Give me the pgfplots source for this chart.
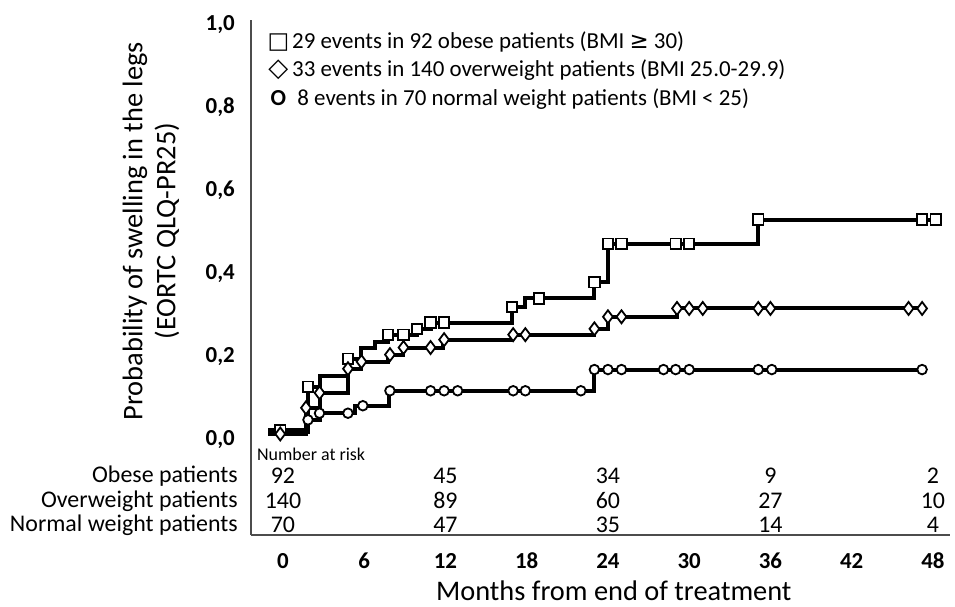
\documentclass[border=0pt]{standalone}
\usepackage{fontspec}
\setmainfont{Carlito}
\newfontfamily\sym{DejaVu Sans}
\usepackage{pgfplots}
\pgfplotsset{compat=1.18}
\newcommand\rt{\fontsize{24}{28}\selectfont}
\tikzset{rt/.style={font=\rt, inner sep=0pt}}
\begin{document}
\begin{tikzpicture}
\path[use as bounding box] (-251bp,-72bp) rectangle (704bp,535bp);
\begin{axis}[
  at={(0,0)}, anchor=south west,
  scale only axis, width=699bp, height=515bp,
  xmin=-2.36, xmax=49.26, ymin=-0.229, ymax=1.01,
  axis x line*=bottom, axis y line*=left,
  axis line style={line width=1.8bp, draw=black!70, -},
  xtick={0,6,12,18,24,30,36,42,48},
  ytick={0,0.2,0.4,0.6,0.8,1},
  major tick length=0pt,
  clip=false,
  /pgf/number format/assume math mode=true,
  yticklabel style={font=\bfseries\fontsize{23}{26}\selectfont, anchor=east, inner sep=0pt, xshift=-16bp,
    /pgf/number format/.cd, use comma, fixed, fixed zerofill, precision=1},
  xticklabel style={font=\bfseries\fontsize{23}{26}\selectfont, anchor=center, inner sep=0pt, yshift=-26bp},
  ylabel={Probability of swelling in the legs\\(EORTC QLQ-PR25)},
  ylabel style={at={(axis description cs:-0.143,0.59)}, anchor=center, align=center,
    font=\fontsize{28.5}{33}\selectfont},
  xlabel={Months from end of treatment},
  xlabel style={at={(axis description cs:0.519,0)}, anchor=base, yshift=-65bp, inner sep=0pt,
    font=\fontsize{28.5}{33}\selectfont},
  every axis plot/.append style={line width=4bp, black},
]
% Obese
\addplot[const plot, no marks] coordinates {
(-1.1,0.024) (1.85,0.128) (2.7,0.153) (4.8,0.195) (5.8,0.222) (6.8,0.236) (7.75,0.253)
(9.9,0.267) (10.9,0.282) (16.9,0.32) (17.9,0.34) (23.0,0.379) (24.0,0.472) (35.1,0.53) (48.2,0.53)};
% Overweight
\addplot[const plot, no marks] coordinates {
(-1.1,0.014) (1.7,0.077) (2.7,0.113) (4.8,0.171) (5.8,0.188) (7.75,0.205) (8.9,0.222)
(11.8,0.241) (16.9,0.253) (23.0,0.267) (24.0,0.296) (29.1,0.316) (47.2,0.316)};
% Normal
\addplot[const plot, no marks] coordinates {
(-1.1,0.02) (1.85,0.048) (2.7,0.064) (5.3,0.082) (7.8,0.118) (23.0,0.169) (47.2,0.169)};
% censor marks
\addplot[only marks, mark=square*, mark size=5.2bp, mark options={fill=white, draw=black, line width=1.8bp}] coordinates {
(-0.2,0.024) (1.85,0.128) (4.8,0.195) (7.75,0.253) (8.9,0.253) (9.9,0.267) (10.9,0.282) (11.9,0.282)
(16.9,0.32) (18.9,0.34) (23.0,0.379) (24.0,0.472) (25.0,0.472) (29.0,0.472) (30.0,0.472)
(35.1,0.53) (47.2,0.53) (48.2,0.53)};
\addplot[only marks, mark=diamond*, mark size=6.5bp, mark options={fill=white, draw=black, line width=1.8bp}] coordinates {
(-0.2,0.014) (1.7,0.077) (2.7,0.113) (4.8,0.171) (5.8,0.188) (7.9,0.205) (8.9,0.222) (10.9,0.222)
(11.9,0.241) (17.0,0.253) (17.9,0.253) (23.0,0.267) (24.0,0.296) (25.0,0.296) (29.1,0.316)
(30.0,0.316) (31.0,0.316) (35.1,0.316) (36.0,0.316) (46.2,0.316) (47.2,0.316)};
\addplot[only marks, mark=*, mark size=4.8bp, mark options={fill=white, draw=black, line width=1.8bp}] coordinates {
(1.85,0.048) (2.7,0.064) (4.8,0.064) (5.9,0.082) (7.9,0.118) (10.9,0.118) (11.9,0.118) (12.9,0.118)
(17.0,0.118) (17.9,0.118) (22.0,0.118) (23.0,0.169) (24.0,0.169) (25.0,0.169) (28.1,0.169)
(29.0,0.169) (30.0,0.169) (35.1,0.169) (36.1,0.169) (47.2,0.169)};
% legend
\node[anchor=north west, inner sep=0pt, align=left, font=\fontsize{23}{28.5}\selectfont] at (axis cs:-1.15,0.99) {%
\begin{tabular}{@{}c@{\hspace{3bp}}l@{}}
{\sym □} & 29 events in 92 obese patients (BMI {\sym ≥} 30)\\
{\sym\fontsize{26}{28.5}\selectfont ◇} & 33 events in 140 overweight patients (BMI 25.0-29.9)\\
\textbf{O} & \ 8 events in 70 normal weight patients (BMI < 25)
\end{tabular}};
% number at risk
\node[anchor=west, inner sep=0pt, font=\fontsize{18}{20}\selectfont] at (axis cs:-1.92,-0.036) {Number at risk};
\node[anchor=east, rt, xshift=-13bp] at (axis cs:-2.36,-0.087) {Obese patients};
\node[anchor=east, rt, xshift=-13bp] at (axis cs:-2.36,-0.147) {Overweight patients};
\node[anchor=east, rt, xshift=-13bp] at (axis cs:-2.36,-0.205) {Normal weight patients};
\node[rt] at (axis cs:0,-0.087) {92};
\node[rt] at (axis cs:12,-0.087) {45};
\node[rt] at (axis cs:24,-0.087) {34};
\node[rt] at (axis cs:36,-0.087) {9};
\node[rt] at (axis cs:48,-0.087) {2};
\node[rt] at (axis cs:0,-0.147) {140};
\node[rt] at (axis cs:12,-0.147) {89};
\node[rt] at (axis cs:24,-0.147) {60};
\node[rt] at (axis cs:36,-0.147) {27};
\node[rt] at (axis cs:48,-0.147) {10};
\node[rt] at (axis cs:0,-0.205) {70};
\node[rt] at (axis cs:12,-0.205) {47};
\node[rt] at (axis cs:24,-0.205) {35};
\node[rt] at (axis cs:36,-0.205) {14};
\node[rt] at (axis cs:48,-0.205) {4};
\end{axis}
\end{tikzpicture}
\end{document}
